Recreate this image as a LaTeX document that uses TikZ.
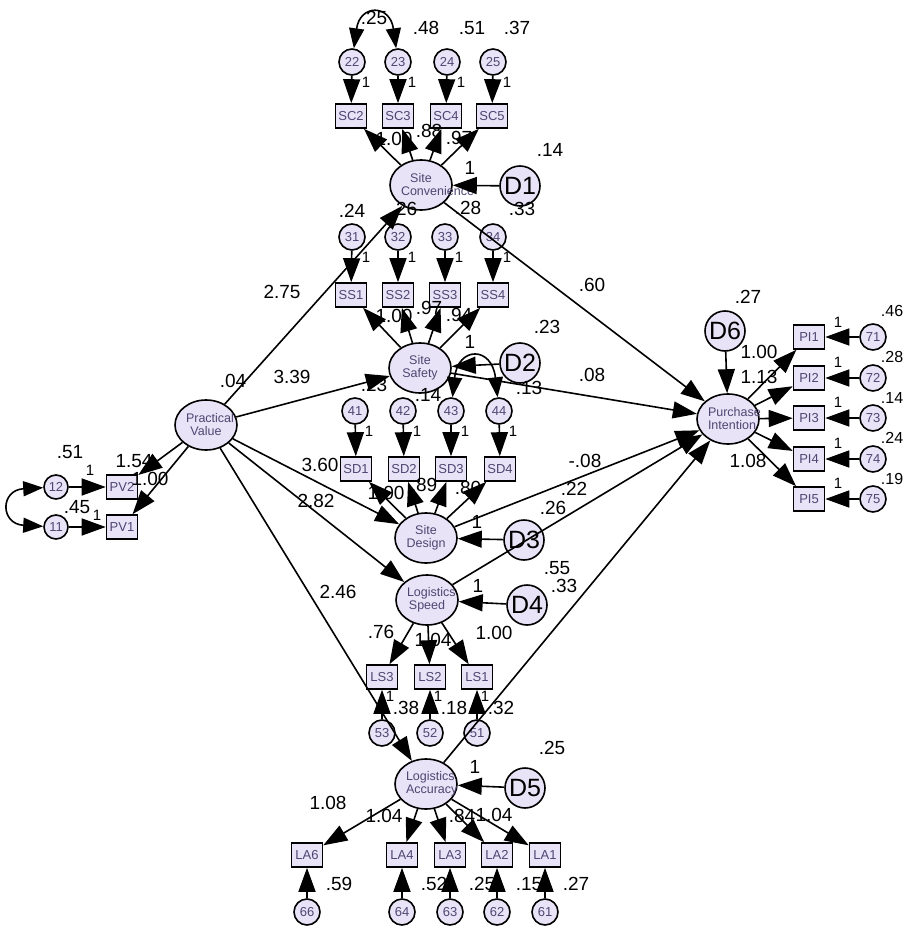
\documentclass[tikz,border=0pt]{standalone}
\usepackage{fontspec}
\setmainfont{Liberation Sans}
\usepackage{tikz}
\usetikzlibrary{arrows.meta, shapes.geometric}
\definecolor{lavcolor}{RGB}{232,227,246}
\definecolor{inkcolor}{RGB}{80,70,115}

\begin{document}
\begin{tikzpicture}[x=1pt, y=-1pt, line width=1.6pt]
    % Define the styles for the variables and the estimates
    \tikzstyle{latent} = [draw, ellipse, fill=lavcolor, text=inkcolor, minimum width=62pt, minimum height=50pt, inner sep=0pt, text width=40pt, align=center, font=\fontsize{12.5}{13}\selectfont]
    \tikzstyle{obs} = [draw, rectangle, fill=lavcolor, text=inkcolor, minimum width=31pt, minimum height=24pt, inner sep=0pt, font=\fontsize{13}{13}\selectfont]
    \tikzstyle{err} = [draw, circle, fill=lavcolor, text=inkcolor, minimum size=26pt, inner sep=0pt, font=\fontsize{13}{13}\selectfont]
    \tikzstyle{dist} = [draw, circle, fill=lavcolor, minimum size=40pt, inner sep=0pt, font=\fontsize{25}{25}\selectfont]
    \tikzstyle{regr} = [-{Triangle[length=24pt, width=17pt]}]
    \tikzstyle{cov} = [{Triangle[length=20pt, width=15pt]}-{Triangle[length=20pt, width=15pt]}]
    \tikzstyle{est} = [inner sep=0pt, font=\fontsize{19}{19}\selectfont]
    \tikzstyle{one} = [inner sep=0pt, font=\fontsize{15}{15}\selectfont]

    \useasboundingbox (0,0) rectangle (904,928);

    % Latent variables
    \node[latent] (pv) at (206,425) {Practical\\Value};
    \node[latent] (sc) at (421,185) {Site\\Convenience};
    \node[latent] (ss) at (420,368) {Site\\Safety};
    \node[latent] (sd) at (426,538) {Site\\Design};
    \node[latent] (ls) at (427,600) {Logistics\\Speed};
    \node[latent] (la) at (426,784) {Logistics\\Accuracy};
    \node[latent] (pi) at (728,419) {Purchase\\Intention};

    % Disturbances
    \node[dist] (d1) at (520,186) {D1};
    \node[dist] (d2) at (520,363) {D2};
    \node[dist] (d3) at (524,540) {D3};
    \node[dist] (d4) at (527,605) {D4};
    \node[dist] (d5) at (525,788) {D5};
    \node[dist] (d6) at (725,331) {D6};

    % Practical value indicators
    \node[obs] (pv2) at (122,487) {PV2};
    \node[obs] (pv1) at (122,527) {PV1};
    \node[err, minimum size=24pt] (e12) at (56,487) {12};
    \node[err, minimum size=24pt] (e11) at (56,527) {11};

    % Site convenience indicators
    \node[obs] (sc2) at (351,116) {SC2};
    \node[obs] (sc3) at (398,116) {SC3};
    \node[obs] (sc4) at (446,116) {SC4};
    \node[obs] (sc5) at (492,116) {SC5};
    \node[err] (e22) at (352,62) {22};
    \node[err] (e23) at (398,62) {23};
    \node[err] (e24) at (447,62) {24};
    \node[err] (e25) at (493,62) {25};

    % Site safety indicators
    \node[obs] (ss1) at (351,295) {SS1};
    \node[obs] (ss2) at (398,295) {SS2};
    \node[obs] (ss3) at (445,295) {SS3};
    \node[obs] (ss4) at (493,295) {SS4};
    \node[err] (e31) at (352,237) {31};
    \node[err] (e32) at (398,237) {32};
    \node[err] (e33) at (445,237) {33};
    \node[err] (e34) at (493,237) {34};

    % Site design indicators
    \node[obs] (sd1) at (356,469) {SD1};
    \node[obs] (sd2) at (404,469) {SD2};
    \node[obs] (sd3) at (451,469) {SD3};
    \node[obs] (sd4) at (500,469) {SD4};
    \node[err] (e41) at (355,411) {41};
    \node[err] (e42) at (403,411) {42};
    \node[err] (e43) at (451,411) {43};
    \node[err] (e44) at (499,411) {44};

    % Logistics speed indicators
    \node[obs] (ls3) at (382,677) {LS3};
    \node[obs] (ls2) at (430,677) {LS2};
    \node[obs] (ls1) at (477,677) {LS1};
    \node[err] (e53) at (382,733) {53};
    \node[err] (e52) at (430,733) {52};
    \node[err] (e51) at (477,733) {51};

    % Logistics accuracy indicators
    \node[obs] (la6) at (307,855) {LA6};
    \node[obs] (la4) at (402,855) {LA4};
    \node[obs] (la3) at (450,855) {LA3};
    \node[obs] (la2) at (497,855) {LA2};
    \node[obs] (la1) at (545,855) {LA1};
    \node[err] (e66) at (307,912) {66};
    \node[err] (e64) at (402,912) {64};
    \node[err] (e63) at (450,912) {63};
    \node[err] (e62) at (497,912) {62};
    \node[err] (e61) at (545,912) {61};

    % Purchase intention indicators
    \node[obs] (pi1) at (809,337) {PI1};
    \node[obs] (pi2) at (809,378) {PI2};
    \node[obs] (pi3) at (809,418) {PI3};
    \node[obs] (pi4) at (809,459) {PI4};
    \node[obs] (pi5) at (809,499) {PI5};
    \node[err] (e71) at (873,337) {71};
    \node[err] (e72) at (873,378) {72};
    \node[err] (e73) at (873,418) {73};
    \node[err] (e74) at (873,459) {74};
    \node[err] (e75) at (873,499) {75};

    % Structural paths
    \draw[regr] (pv) -- (sc);
    \draw[regr] (pv) -- (ss);
    \draw[regr] (pv) -- (sd);
    \draw[regr] (pv) -- (ls);
    \draw[regr] (pv) -- (la);
    \draw[regr] (sc) -- (pi);
    \draw[regr] (ss) -- (pi);
    \draw[regr] (sd) -- (pi);
    \draw[regr] (ls) -- (pi);
    \draw[regr] (la) -- (pi);

    % Disturbances into the endogenous factors
    \draw[regr] (d1) -- (sc);
    \draw[regr] (d2) -- (ss);
    \draw[regr] (d3) -- (sd);
    \draw[regr] (d4) -- (ls);
    \draw[regr] (d5) -- (la);
    \draw[regr] (d6) -- (pi);

    % Measurement paths
    \draw[regr] (pv) -- (pv2);  \draw[regr] (pv) -- (pv1);
    \draw[regr] (e12) -- (pv2); \draw[regr] (e11) -- (pv1);
    \draw[regr] (sc) -- (sc2);  \draw[regr] (sc) -- (sc3);  \draw[regr] (sc) -- (sc4);  \draw[regr] (sc) -- (sc5);
    \draw[regr] (e22) -- (sc2); \draw[regr] (e23) -- (sc3); \draw[regr] (e24) -- (sc4); \draw[regr] (e25) -- (sc5);
    \draw[regr] (ss) -- (ss1);  \draw[regr] (ss) -- (ss2);  \draw[regr] (ss) -- (ss3);  \draw[regr] (ss) -- (ss4);
    \draw[regr] (e31) -- (ss1); \draw[regr] (e32) -- (ss2); \draw[regr] (e33) -- (ss3); \draw[regr] (e34) -- (ss4);
    \draw[regr] (sd) -- (sd1);  \draw[regr] (sd) -- (sd2);  \draw[regr] (sd) -- (sd3);  \draw[regr] (sd) -- (sd4);
    \draw[regr] (e41) -- (sd1); \draw[regr] (e42) -- (sd2); \draw[regr] (e43) -- (sd3); \draw[regr] (e44) -- (sd4);
    \draw[regr] (ls) -- (ls3);  \draw[regr] (ls) -- (ls2);  \draw[regr] (ls) -- (ls1);
    \draw[regr] (e53) -- (ls3); \draw[regr] (e52) -- (ls2); \draw[regr] (e51) -- (ls1);
    \draw[regr] (la) -- (la6);  \draw[regr] (la) -- (la4);  \draw[regr] (la) -- (la3);  \draw[regr] (la) -- (la2);  \draw[regr] (la) -- (la1);
    \draw[regr] (e66) -- (la6); \draw[regr] (e64) -- (la4); \draw[regr] (e63) -- (la3); \draw[regr] (e62) -- (la2); \draw[regr] (e61) -- (la1);
    \draw[regr] (pi) -- (pi1);  \draw[regr] (pi) -- (pi2);  \draw[regr] (pi) -- (pi3);  \draw[regr] (pi) -- (pi4);  \draw[regr] (pi) -- (pi5);
    \draw[regr] (e71) -- (pi1); \draw[regr] (e72) -- (pi2); \draw[regr] (e73) -- (pi3); \draw[regr] (e74) -- (pi4); \draw[regr] (e75) -- (pi5);

    % Error covariances
    \draw[cov] (e22) .. controls (360,4) and (390,4) .. (e23);
    \draw[cov] (e43) .. controls (458,346) and (492,346) .. (e44);
    \draw[cov] (e12) .. controls (0,490) and (0,524) .. (e11);

    % Estimates, top part
    \node[est] (v22) at (374,18) {.25};
    \node[est] (v23) at (426,28) {.48};
    \node[est] (v24) at (472,28) {.51};
    \node[est] (v25) at (517,28) {.37};
    \node[one] (f22) at (366,82) {1};
    \node[one] (f23) at (412,82) {1};
    \node[one] (f24) at (461,82) {1};
    \node[one] (f25) at (507,82) {1};
    \node[est] (w32) at (394,139) {1.00};
    \node[est] (w33) at (429,131) {.88};
    \node[est] (w34) at (459,138) {.97};
    \node[est] (vd1) at (550,150) {.14};
    \node[est] (fd1) at (470,168) {1};
    \node[est] (v31) at (352,211) {.24};
    \node[est] (v32) at (404,209) {.26};
    \node[est] (v33) at (468,208) {.28};
    \node[est] (v34) at (522,209) {.33};
    \node[one] (f31) at (366,257) {1};
    \node[one] (f32) at (412,257) {1};
    \node[one] (f33) at (459,257) {1};
    \node[one] (f34) at (507,257) {1};
    \node[est] (b1) at (282,292) {2.75};
    \node[est] (b6) at (592,285) {.60};
    \node[est] (w42) at (394,316) {1.00};
    \node[est] (w43) at (429,308) {.97};
    \node[est] (w44) at (459,315) {.94};
    \node[est] (vd2) at (547,327) {.23};
    \node[est] (fd2) at (470,342) {1};

    % Estimates, middle part
    \node[est] (vpv) at (233,381) {.04};
    \node[est] (b2) at (292,377) {3.39};
    \node[est] (v41) at (374,385) {.23};
    \node[est] (v42) at (428,395) {.14};
    \node[est] (c44) at (529,388) {.13};
    \node[est] (b7) at (592,375) {.08};
    \node[one] (f41) at (369,431) {1};
    \node[one] (f42) at (417,431) {1};
    \node[one] (f43) at (465,431) {1};
    \node[one] (f44) at (513,431) {1};
    \node[est] (b3) at (320,465) {3.60};
    \node[est] (b4) at (316,501) {2.82};
    \node[est] (b8) at (585,461) {-.08};
    \node[est] (b9) at (574,489) {.22};
    \node[est] (vd3) at (553,508) {.26};
    \node[est] (w52) at (386,493) {1.00};
    \node[est] (w53) at (424,485) {.89};
    \node[est] (w54) at (468,488) {.80};
    \node[est] (fd3) at (477,522) {1};
    \node[est] (b10) at (557,568) {.55};
    \node[est] (vd4) at (564,586) {.33};
    \node[est] (fd4) at (478,586) {1};
    \node[est] (b5) at (338,592) {2.46};

    % Estimates, lower part
    \node[est] (w63) at (381,632) {.76};
    \node[est] (w62) at (433,640) {1.04};
    \node[est] (w61) at (494,633) {1.00};
    \node[one] (f53) at (390,696) {1};
    \node[one] (f52) at (438,696) {1};
    \node[one] (f51) at (485,696) {1};
    \node[est] (v53) at (406,708) {.38};
    \node[est] (v52) at (454,708) {.18};
    \node[est] (v51) at (501,708) {.32};
    \node[est] (vd5) at (552,748) {.25};
    \node[est] (fd5) at (475,767) {1};
    \node[est] (w76) at (328,803) {1.08};
    \node[est] (w74) at (384,816) {1.04};
    \node[est] (w73) at (462,816) {.84};
    \node[est] (w72) at (494,815) {1.04};
    \node[est] (v66) at (339,884) {.59};
    \node[est] (v64) at (434,884) {.52};
    \node[est] (v63) at (482,884) {.25};
    \node[est] (v62) at (529,884) {.15};
    \node[est] (v61) at (576,884) {.27};

    % Estimates, left and right parts
    \node[est] (v12) at (70,452) {.51};
    \node[one] (f12) at (90,470) {1};
    \node[est] (v11) at (77,507) {.45};
    \node[one] (f11) at (97,515) {1};
    \node[est] (w12) at (134,461) {1.54};
    \node[est] (w11) at (150,479) {1.00};
    \node[est] (vd6) at (748,297) {.27};
    \node[est] (w81) at (759,352) {1.00};
    \node[est] (w82) at (759,377) {1.13};
    \node[est] (w84) at (748,461) {1.08};
    \node[one] (f71) at (838,322) {1};
    \node[one] (f72) at (838,362) {1};
    \node[one] (f73) at (838,402) {1};
    \node[one] (f74) at (838,443) {1};
    \node[one] (f75) at (838,483) {1};
    \node[est, anchor=east, font=\fontsize{16}{16}\selectfont] (v71) at (904,311) {.46};
    \node[est, anchor=east, font=\fontsize{16}{16}\selectfont] (v72) at (904,357) {.28};
    \node[est, anchor=east, font=\fontsize{16}{16}\selectfont] (v73) at (904,398) {.14};
    \node[est, anchor=east, font=\fontsize{16}{16}\selectfont] (v74) at (904,438) {.24};
    \node[est, anchor=east, font=\fontsize{16}{16}\selectfont] (v75) at (904,479) {.19};
\end{tikzpicture}
\end{document}
